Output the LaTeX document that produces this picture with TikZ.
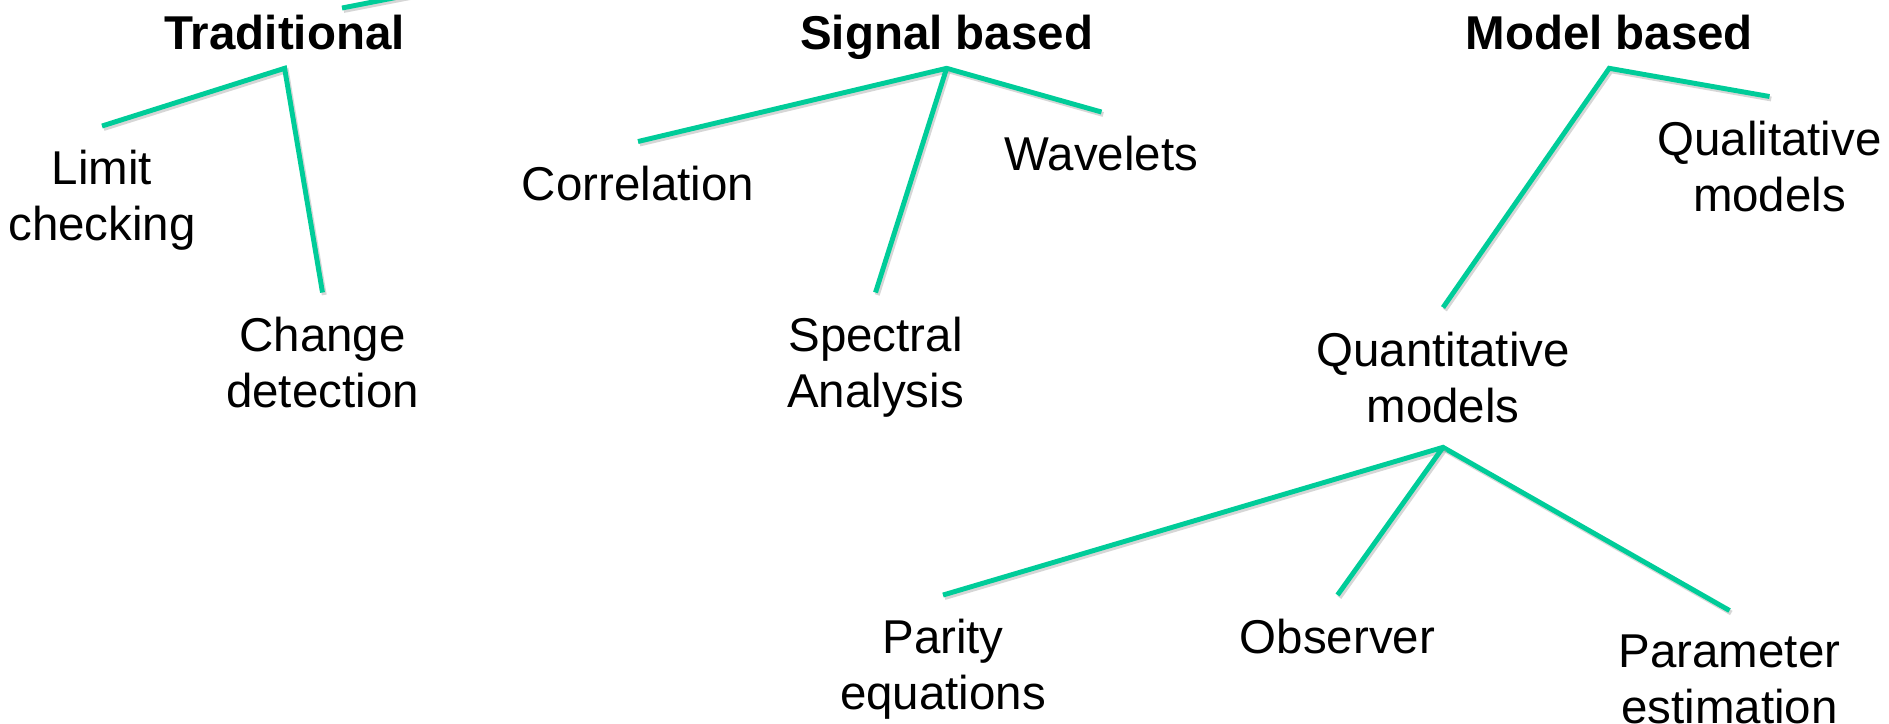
\documentclass[tikz,border=0pt]{standalone}
\usepackage{fontspec}
\setmainfont{Liberation Sans}
\usetikzlibrary{calc}
\definecolor{branchGreen}{RGB}{0,204,153}
\definecolor{shadowGrey}{RGB}{165,165,165}

\begin{document}
\begin{tikzpicture}[x=0.01cm,y=-0.01cm,
  head/.style={font=\fontsize{13.5}{15.9}\selectfont\bfseries,inner sep=0pt,anchor=base},
  leaf/.style={font=\fontsize{13.5}{15.9}\selectfont,align=center,inner sep=0pt,outer ysep=0.245cm,anchor=north},
  branch/.style={draw=branchGreen,line width=1.4pt,
    preaction={draw=shadowGrey,opacity=0.45,line width=1.4pt,transform canvas={xshift=0.5pt,yshift=-0.7pt}}}]
\useasboundingbox (0,0) rectangle (1889,723);

\node[head] (trad) at (284.6,49.3) {Traditional};
\node[head] (signal) at (946.6,49.3) {Signal based};
\node[head] (model) at (1609.2,49.3) {Model based};
\coordinate (tradfork) at ($(trad.base)+(0,19)$);
\coordinate (signalfork) at ($(signal.base)+(0,19)$);
\coordinate (modelfork) at ($(model.base)+(0,19)$);

\node[leaf] (limit) at (102,126) {Limit\\checking};
\node[leaf] (change) at (322.5,292.5) {Change\\detection};
\node[leaf] (correl) at (638,141.5) {Correlation};
\node[leaf] (spectral) at (875.5,292.5) {Spectral\\Analysis};
\node[leaf] (wavelets) at (1101.5,112) {Wavelets};
\node[leaf] (quant) at (1443,307.5) {Quantitative\\models};
\node[leaf] (qual) at (1769.5,96.5) {Qualitative\\models};
\node[leaf] (parity) at (943,595) {Parity\\equations};
\node[leaf] (observer) at (1337.5,595) {Observer};
\node[leaf] (param) at (1729.5,610.5) {Parameter\\estimation};

% branch coming down from the level above
\coordinate (root) at (947,-110);
\coordinate (tradtop) at (342,8);
\draw[branch] (root) -- (tradtop);

\draw[branch] (limit.north) -- (tradfork) -- (change.north);
\draw[branch] (correl.north) -- (signalfork) -- (wavelets.north);
\draw[branch] (signalfork) -- (spectral.north);
\draw[branch] (quant.north) -- (modelfork) -- (qual.north);
\draw[branch] (parity.north) -- (quant.south) -- (param.north);
\draw[branch] (quant.south) -- (observer.north);
\end{tikzpicture}
\end{document}
